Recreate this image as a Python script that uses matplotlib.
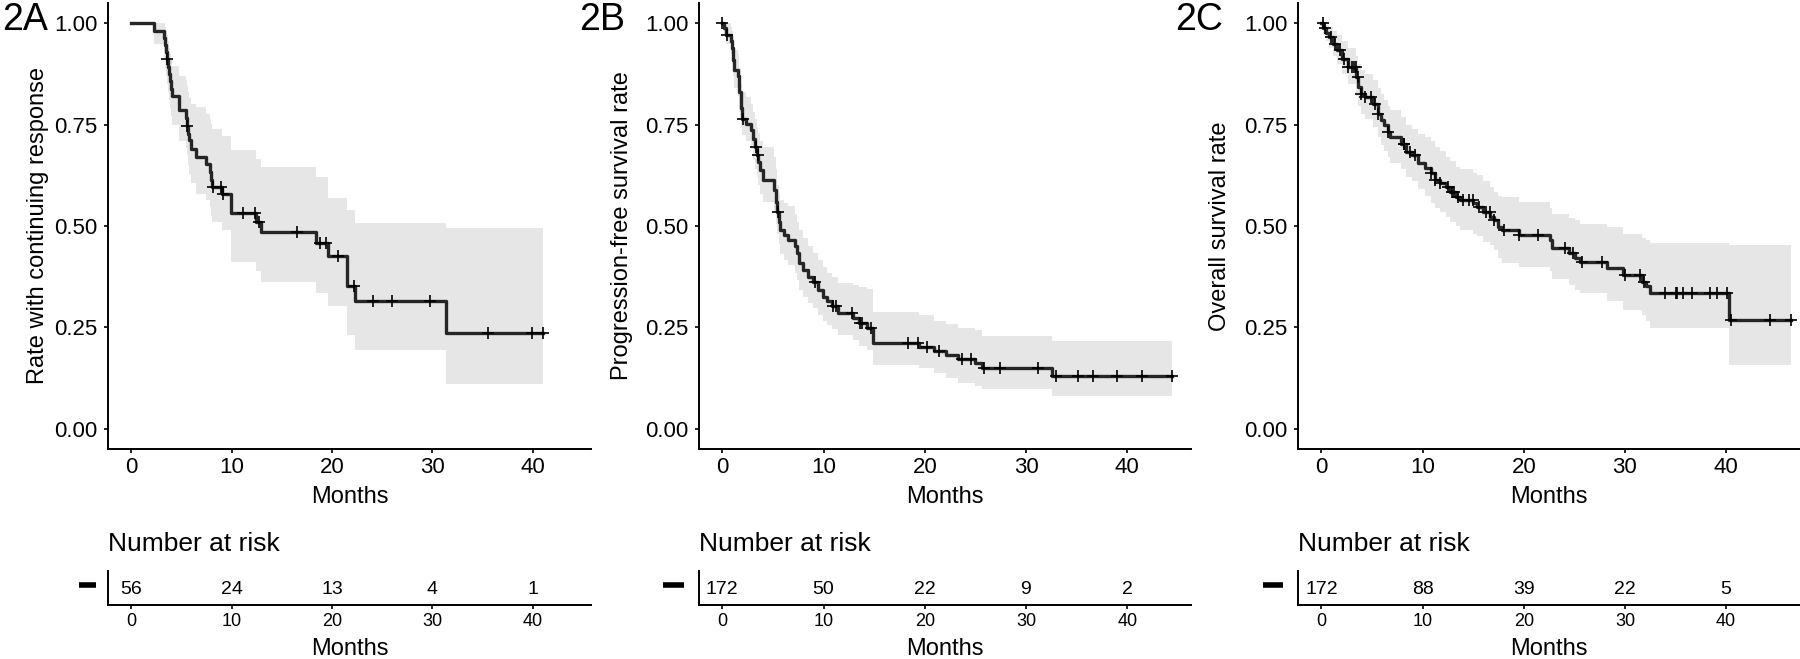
import numpy as np
import matplotlib
matplotlib.use('Agg')
from matplotlib import pyplot as plt

plt.rcParams['font.family'] = ['Liberation Sans', 'DejaVu Sans']

# Painel 2A - resposta continuada
a_time = [0, 2.24, 3.27, 3.35, 3.45, 3.55, 3.65, 3.75, 3.85, 3.95, 4.05, 4.69, 5.40, 5.50,
          5.60, 5.75, 5.95, 6.45, 7.43, 7.80, 7.95, 8.05, 9.05, 9.90, 12.43, 12.90, 18.40,
          19.60, 21.45, 22.30, 31.30]
a_surv = [1.0, .982, .964, .946, .929, .911, .893, .875, .857, .839, .821, .785, .766, .746,
          .727, .711, .691, .670, .654, .633, .613, .597, .578, .533, .510, .484, .457,
          .425, .352, .314, .236]
a_upper = [1.0, 1.0, 1.0, .99, .98, .97, .955, .94, .925, .91, .895, .87, .86, .845,
           .83, .815, .80, .793, .776, .765, .752, .74, .723, .687, .665, .646, .621,
           .568, .539, .508, .494]
a_lower = [1.0, .949, .915, .89, .87, .85, .83, .81, .79, .77, .75, .71, .69, .675,
           .65, .629, .605, .58, .564, .547, .525, .51, .49, .412, .39, .363, .334,
           .302, .232, .193, .111]
a_end = 41.0
a_censor = [3.57, 5.52, 8.1, 8.9, 9.1, 11.1, 12.3, 12.7, 16.5, 18.8, 19.4, 20.6, 22.2,
            24.1, 26.0, 29.8, 35.5, 39.9, 41.0]
a_risk = [56, 24, 13, 4, 1]

# Painel 2B - sobrevida livre de progressão
b_time = [0, 0.2, 0.4, 0.85, 1.0, 1.1, 1.2, 1.6, 1.7, 1.8, 1.9, 2.3, 2.8, 3.0, 3.25, 3.45,
          3.55, 3.7, 4.05, 5.15, 5.3, 5.45, 5.6, 5.75, 6.1, 6.5, 7.2, 7.35, 7.6, 8.0, 8.5,
          9.0, 9.5, 9.9, 10.3, 10.8, 11.4, 12.9, 13.5, 14.3, 14.9, 19.4, 20.9, 22.1, 23.3,
          25.0, 25.7, 32.6]
b_surv = [1.0, .988, .971, .955, .94, .91, .884, .871, .83, .79, .765, .752, .736, .715,
          .695, .675, .658, .638, .613, .589, .56, .534, .51, .49, .478, .466, .45, .433,
          .408, .392, .375, .361, .343, .326, .315, .302, .285, .273, .26, .248, .211, .201,
          .192, .182, .172, .161, .150, .130]
b_upper = [1.0, 1.0, 1.0, .99, .98, .96, .935, .925, .89, .85, .83, .818, .80, .78, .765,
           .745, .73, .71, .695, .67, .64, .60, .58, .565, .556, .55, .53, .51, .49, .47,
           .45, .433, .415, .40, .385, .375, .36, .355, .35, .345, .289, .281, .265, .257,
           .248, .244, .228, .216]
b_lower = [1.0, .97, .95, .925, .90, .87, .84, .82, .78, .745, .725, .71, .69, .665, .64,
           .62, .60, .58, .56, .535, .505, .48, .455, .43, .416, .404, .385, .367, .343,
           .325, .31, .298, .28, .265, .255, .245, .232, .22, .205, .195, .158, .15, .138,
           .125, .113, .105, .097, .080]
b_end = 44.4
b_censor = [0.0, 0.46, 2.05, 3.3, 3.5, 5.48, 9.2, 10.9, 11.2, 12.8, 13.6, 13.8, 14.7, 18.3,
            19.3, 20.2, 21.4, 23.7, 24.6, 25.9, 27.4, 31.2, 33.0, 35.1, 36.6, 39.0, 41.5, 44.4]
b_risk = [172, 50, 22, 9, 2]

# Painel 2C - sobrevida global
c_time = [0, 0.2, 0.45, 0.7, 1.1, 1.5, 2.05, 2.6, 3.4, 3.6, 3.95, 4.33, 5.1, 5.55, 5.86,
          6.16, 6.6, 6.8, 7.9, 8.33, 8.9, 9.5, 10.2, 10.8, 11.2, 11.75, 12.3, 12.7, 13.27,
          13.65, 15.0, 15.36, 15.93, 16.7, 17.07, 17.45, 17.83, 19.5, 22.6, 22.8, 24.5,
          25.06, 25.6, 28.2, 29.8, 31.7, 32.1, 32.5, 40.27]
c_surv = [1.0, .988, .976, .966, .949, .933, .912, .892, .867, .843, .826, .818, .80, .777,
          .761, .748, .732, .72, .703, .683, .675, .655, .642, .63, .613, .605, .597, .584,
          .572, .564, .556, .548, .535, .523, .515, .498, .49, .478, .466, .445, .433, .42,
          .412, .396, .38, .363, .351, .334, .269]
c_upper = [1.0, 1.0, .995, .99, .98, .97, .955, .94, .92, .90, .885, .875, .86, .84, .825,
           .81, .795, .785, .769, .75, .74, .728, .72, .71, .695, .685, .67, .66, .646, .64,
           .63, .625, .61, .595, .585, .575, .572, .56, .545, .53, .52, .515, .505, .498,
           .48, .47, .465, .457, .453]
c_lower = [1.0, .97, .955, .94, .92, .90, .875, .85, .82, .795, .775, .765, .745, .72, .70,
           .685, .67, .655, .64, .62, .61, .59, .575, .556, .545, .535, .523, .51, .50, .49,
           .48, .475, .46, .453, .44, .42, .408, .40, .39, .37, .355, .343, .335, .315, .293,
           .28, .265, .248, .158]
c_end = 46.4
c_censor = [0.15, 0.34, 0.91, 1.29, 1.86, 2.24, 2.62, 3.0, 3.19, 3.38, 3.57, 3.95, 4.33,
            4.9, 5.29, 5.55, 6.62, 8.14, 8.2, 8.71, 9.28, 10.8, 11.25, 11.75, 12.5, 12.89,
            13.08, 13.46, 14.03, 14.6, 14.98, 15.55, 16.31, 16.69, 17.07, 18.02, 19.54,
            21.44, 24.1, 24.87, 25.8, 27.7, 30.0, 31.5, 31.9, 34.0, 35.0, 35.1, 35.7, 36.65,
            38.4, 39.1, 40.1, 40.5, 44.3, 46.4]
c_risk = [172, 88, 39, 22, 5]

risk_times = [0, 10, 20, 30, 40]
y_labels = ['Rate with continuing response', 'Progression-free survival rate',
            'Overall survival rate']
tags = ['2A', '2B', '2C']

fig = plt.figure(figsize=(18, 6.59), dpi=100)

panels = [
    (a_time, a_surv, a_upper, a_lower, a_end, a_censor, a_risk),
    (b_time, b_surv, b_upper, b_lower, b_end, b_censor, b_risk),
    (c_time, c_surv, c_upper, c_lower, c_end, c_censor, c_risk),
]
lefts = [108 / 1800, 699 / 1800, 1298 / 1800]
widths = [483 / 1800, 492 / 1800, 502 / 1800]
xlims = [(-2.34, 45.8), (-2.3, 46.3), (-2.32, 47.3)]
ylab_x = [-0.122, -0.134, -0.133]
tag_x = [2 / 1800, 579 / 1800, 1175 / 1800]
dash_x = [(-0.060, -0.025), (-0.073, -0.030), (-0.070, -0.030)]

for i, (t, s, up, lo, end, cens, risk) in enumerate(panels):
    t_full = list(t) + [end]
    ax = fig.add_axes([lefts[i], 0.3187, widths[i], 0.6768])
    ax.fill_between(t_full, list(up) + [up[-1]], list(lo) + [lo[-1]], step='post',
                    color='#e6e6e6', lw=0)
    ax.step(t_full, list(s) + [s[-1]], where='post', color='#262626', lw=2.4)
    idx = np.searchsorted(t, cens, side='right') - 1
    ax.plot(cens, np.array(s)[idx], ls='none', marker='+', ms=9, mew=1.2, color='black')

    ax.set_xlim(xlims[i])
    ax.set_ylim(-0.05, 1.05)
    ax.set_xticks([0, 10, 20, 30, 40])
    ax.set_yticks([0, 0.25, 0.5, 0.75, 1.0])
    ax.set_yticklabels(['0.00', '0.25', '0.50', '0.75', '1.00'])
    for side in ['top', 'right']:
        ax.spines[side].set_visible(False)
    for side in ['left', 'bottom']:
        ax.spines[side].set_linewidth(1.4)
    ax.tick_params(axis='both', length=3, width=1.2, labelsize=16, color='black')
    ax.tick_params(axis='x', pad=3)
    ax.tick_params(axis='y', pad=4.5)
    ax.set_xlabel('Months', fontsize=17)
    ax.xaxis.label.set_va('center')
    ax.xaxis.set_label_coords(0.5, -0.1076)
    ax.set_ylabel(y_labels[i], fontsize=17)
    ax.yaxis.set_label_coords(ylab_x[i], 0.5)
    fig.text(tag_x[i], 0.997, tags[i], fontsize=27, ha='left', va='top')

    # Tabela de número em risco
    rt = fig.add_axes([lefts[i], 0.0819, widths[i], 0.0516])
    rt.set_xlim(xlims[i])
    rt.set_ylim(0, 1)
    for x, n in zip(risk_times, risk):
        rt.text(x, 0.45, str(n), fontsize=14, ha='center', va='center')
    rt.set_xticks(risk_times)
    rt.set_yticks([])
    for side in ['top', 'right']:
        rt.spines[side].set_visible(False)
    for side in ['left', 'bottom']:
        rt.spines[side].set_linewidth(1.4)
    rt.tick_params(axis='x', length=3, width=1.2, labelsize=13, pad=3)
    rt.set_xlabel('Months', fontsize=17)
    rt.xaxis.label.set_va('center')
    rt.xaxis.set_label_coords(0.5, -1.294)
    rt.plot(dash_x[i], [0.58, 0.58], transform=rt.transAxes, color='black', lw=4,
            solid_capstyle='butt', clip_on=False)
    fig.text(lefts[i], 0.1745, 'Number at risk', fontsize=19, ha='left', va='center')

fig.savefig('out.png', dpi=100)
